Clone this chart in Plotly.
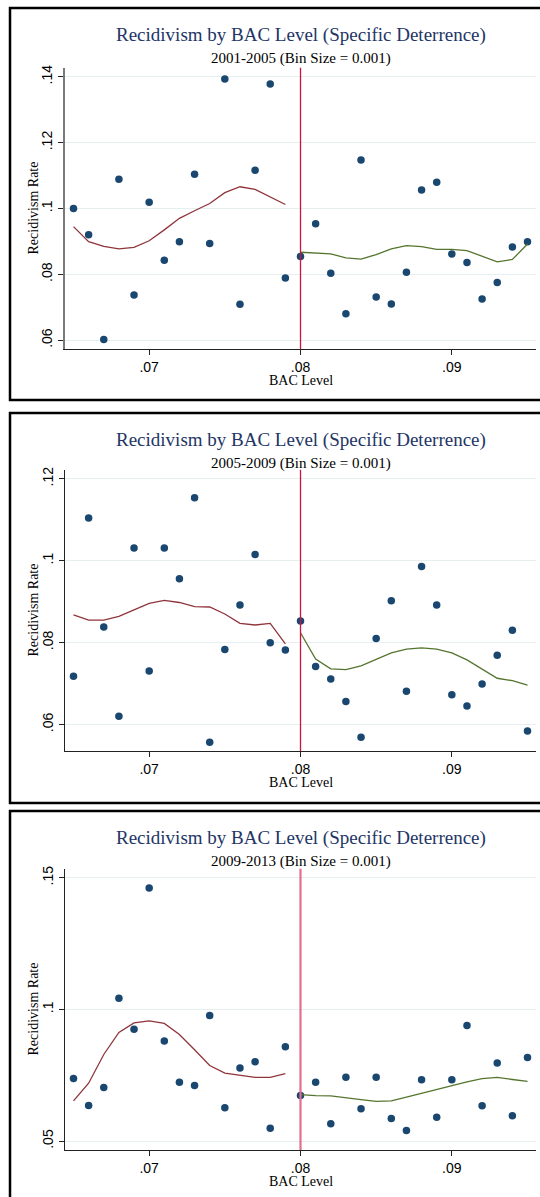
import plotly.graph_objects as go

# ---------------- data ----------------
BAC_BINS = [0.065, 0.066, 0.067, 0.068, 0.069, 0.070, 0.071, 0.072, 0.073, 0.074,
            0.075, 0.076, 0.077, 0.078, 0.079, 0.080, 0.081, 0.082, 0.083, 0.084,
            0.085, 0.086, 0.087, 0.088, 0.089, 0.090, 0.091, 0.092, 0.093, 0.094, 0.095]
BAC_LEFT = [0.065, 0.066, 0.067, 0.068, 0.069, 0.070, 0.071, 0.072, 0.073, 0.074,
            0.075, 0.076, 0.077, 0.078, 0.079]
BAC_RIGHT = [0.080, 0.081, 0.082, 0.083, 0.084, 0.085, 0.086, 0.087, 0.088, 0.089,
             0.090, 0.091, 0.092, 0.093, 0.094, 0.095]
CUTOFF = 0.08

PERIODS = ["2001-2005", "2005-2009", "2009-2013"]

RATE_2001 = [0.1000, 0.0920, 0.0602, 0.1089, 0.0737, 0.1019, 0.0843, 0.0899, 0.1104, 0.0894,
             0.1393, 0.0709, 0.1116, 0.1378, 0.0789, 0.0854, 0.0954, 0.0803, 0.0680, 0.1147,
             0.0731, 0.0710, 0.0806, 0.1056, 0.1080, 0.0862, 0.0836, 0.0725, 0.0775, 0.0883, 0.0899]
FIT_L_2001 = [0.0945, 0.0899, 0.0885, 0.0877, 0.0882, 0.0902, 0.0935, 0.0970, 0.0993, 0.1015,
              0.1048, 0.1066, 0.1058, 0.1035, 0.1012]
FIT_R_2001 = [0.0867, 0.0865, 0.0862, 0.0850, 0.0846, 0.0860, 0.0877, 0.0887, 0.0884, 0.0876,
              0.0876, 0.0872, 0.0856, 0.0838, 0.0845, 0.0892]

RATE_2005 = [0.0718, 0.1104, 0.0838, 0.0620, 0.1031, 0.0731, 0.1031, 0.0956, 0.1154, 0.0557,
             0.0783, 0.0892, 0.1015, 0.0800, 0.0782, 0.0853, 0.0742, 0.0711, 0.0656, 0.0569,
             0.0810, 0.0902, 0.0681, 0.0986, 0.0892, 0.0673, 0.0645, 0.0699, 0.0769, 0.0830, 0.0584]
FIT_L_2005 = [0.0868, 0.0855, 0.0855, 0.0864, 0.0880, 0.0896, 0.0903, 0.0898, 0.0888, 0.0887,
              0.0870, 0.0847, 0.0843, 0.0847, 0.0797]
FIT_R_2005 = [0.0824, 0.0760, 0.0736, 0.0734, 0.0743, 0.0760, 0.0775, 0.0784, 0.0787, 0.0784,
              0.0775, 0.0758, 0.0736, 0.0713, 0.0707, 0.0696]

RATE_2009 = [0.0738, 0.0635, 0.0704, 0.1043, 0.0925, 0.1461, 0.0880, 0.0724, 0.0711, 0.0977,
             0.0627, 0.0778, 0.0801, 0.0549, 0.0858, 0.0673, 0.0724, 0.0566, 0.0743, 0.0623,
             0.0743, 0.0586, 0.0540, 0.0733, 0.0591, 0.0733, 0.0939, 0.0634, 0.0797, 0.0596, 0.0818]
FIT_L_2009 = [0.0653, 0.0720, 0.0829, 0.0913, 0.0949, 0.0957, 0.0947, 0.0905, 0.0847, 0.0787,
              0.0758, 0.0749, 0.0742, 0.0742, 0.0756]
FIT_R_2009 = [0.0677, 0.0673, 0.0672, 0.0666, 0.0658, 0.0651, 0.0653, 0.0667, 0.0682, 0.0696,
              0.0710, 0.0725, 0.0737, 0.0742, 0.0734, 0.0727]

X_TICKS = [0.07, 0.08, 0.09]
X_TICK_TEXT = [".07", ".08", ".09"]
Y_TICKS = [[0.06, 0.08, 0.10, 0.12, 0.14], [0.06, 0.08, 0.10, 0.12], [0.05, 0.10, 0.15]]
Y_TICK_TEXT = [[".06", ".08", ".1", ".12", ".14"], [".06", ".08", ".1", ".12"], [".05", ".1", ".15"]]

RATES = [RATE_2001, RATE_2005, RATE_2009]
FITS_L = [FIT_L_2001, FIT_L_2005, FIT_L_2009]
FITS_R = [FIT_R_2001, FIT_R_2005, FIT_R_2009]

TITLE = "Recidivism by BAC Level (Specific Deterrence)"
SUBTITLE = "{} (Bin Size = 0.001)"
X_LABEL = "BAC Level"
Y_LABEL = "Recidivism Rate"

# ---------------- styling / layout ----------------
W, H = 540, 1197
SERIF = "Liberation Serif, Times New Roman, serif"
SANS = "Liberation Sans, Arial, sans-serif"
DOT = "#1a476f"
RED = "#90353b"
GREEN = "#55752f"
VLINE = ["#cc1443", "#cc1443", "#e27090"]
VLINE_W = [1.3, 1.3, 2.2]
YAXIS_COL = ["#7a7a7a", "#222222", "#222222"]
YAXIS_W = [2.0, 1.3, 1.3]
GRID = "#e6eff0"
TITLE_COL = "#233565"

# pixel geometry per panel: box top/bottom, plot top/bottom
BOX = [(5, 398), (411, 802), (810, 1210)]
PLOT = [(65, 347), (468, 750), (868, 1150)]
PLOT_X = (65, 536)
MARGIN_PX = 9.0


def py(p):
    return 1 - p / H


fig = go.Figure()
shapes = []
annotations = []

x_lo, x_hi = min(BAC_BINS), max(BAC_BINS)
xpad = (x_hi - x_lo) * 8.5 / (PLOT_X[1] - PLOT_X[0] - 17)
x_range = [x_lo - xpad, x_hi + xpad]

for i in range(3):
    n = "" if i == 0 else str(i + 1)
    xa, ya = "x" + n, "y" + n
    rates = RATES[i]

    fig.add_trace(go.Scatter(x=BAC_BINS, y=rates, mode="markers", xaxis=xa, yaxis=ya,
                             marker=dict(color=DOT, size=7.5, line=dict(width=0)),
                             showlegend=False, hoverinfo="x+y"))
    fig.add_trace(go.Scatter(x=BAC_LEFT, y=FITS_L[i], mode="lines", xaxis=xa, yaxis=ya,
                             line=dict(color=RED, width=1.3), showlegend=False))
    fig.add_trace(go.Scatter(x=BAC_RIGHT, y=FITS_R[i], mode="lines", xaxis=xa, yaxis=ya,
                             line=dict(color=GREEN, width=1.3), showlegend=False))

    lo = min(min(rates), min(Y_TICKS[i]))
    hi = max(max(rates), max(Y_TICKS[i]))
    top, bot = PLOT[i]
    ypad = (hi - lo) * MARGIN_PX / (bot - top - 2 * MARGIN_PX)
    y_range = [lo - ypad, hi + ypad]

    fig.update_layout(**{
        "xaxis" + n: dict(domain=[PLOT_X[0] / W, PLOT_X[1] / W], anchor=ya, range=x_range,
                          tickmode="array", tickvals=X_TICKS, ticktext=X_TICK_TEXT,
                          ticks="outside", ticklen=5, tickwidth=1, tickcolor="#222",
                          showline=True, linecolor="#222", linewidth=1.3,
                          showgrid=False, zeroline=False,
                          tickfont=dict(family=SANS, size=14, color="#000")),
        "yaxis" + n: dict(domain=[py(bot), py(top)], anchor=xa, range=y_range,
                          tickmode="array", tickvals=Y_TICKS[i], ticktext=Y_TICK_TEXT[i],
                          tickangle=-90, ticks="outside", ticklen=5, tickwidth=1,
                          tickcolor="#222", showline=True, linecolor=YAXIS_COL[i],
                          linewidth=YAXIS_W[i], showgrid=True, gridcolor=GRID, gridwidth=1,
                          zeroline=False, tickfont=dict(family=SANS, size=14, color="#000")),
    })

    # cutoff line
    shapes.append(dict(type="line", xref=xa, yref=ya + " domain", x0=CUTOFF, x1=CUTOFF,
                       y0=0, y1=1, line=dict(color=VLINE[i], width=VLINE_W[i]), layer="above"))
    # panel box
    b0, b1 = BOX[i]
    shapes.append(dict(type="rect", xref="paper", yref="paper", x0=10 / W, x1=548 / W,
                       y0=py(b1), y1=py(b0), line=dict(color="#000", width=2.5),
                       fillcolor="rgba(0,0,0,0)", layer="above"))
    # titles
    annotations.append(dict(text=TITLE, xref="paper", yref="paper", x=301 / W, y=py(b0 + 27.5),
                            xanchor="center", yanchor="middle", showarrow=False,
                            font=dict(family=SERIF, size=19, color=TITLE_COL)))
    annotations.append(dict(text=SUBTITLE.format(PERIODS[i]), xref="paper", yref="paper",
                            x=301 / W, y=py(b0 + 50.5), xanchor="center", yanchor="middle",
                            showarrow=False, font=dict(family=SERIF, size=15, color="#000")))
    annotations.append(dict(text=X_LABEL, xref="paper", yref="paper",
                            x=(PLOT_X[0] + PLOT_X[1]) / 2 / W, y=py(bot + 31),
                            xanchor="center", yanchor="middle", showarrow=False,
                            font=dict(family=SERIF, size=14, color="#000")))
    annotations.append(dict(text=Y_LABEL, xref="paper", yref="paper", x=33 / W,
                            y=py((top + bot) / 2), xanchor="center", yanchor="middle",
                            textangle=-90, showarrow=False,
                            font=dict(family=SERIF, size=14, color="#000")))

fig.update_layout(width=W, height=H, margin=dict(l=0, r=0, t=0, b=0),
                  paper_bgcolor="white", plot_bgcolor="white",
                  shapes=shapes, annotations=annotations, showlegend=False)

fig.write_html("out.html")
